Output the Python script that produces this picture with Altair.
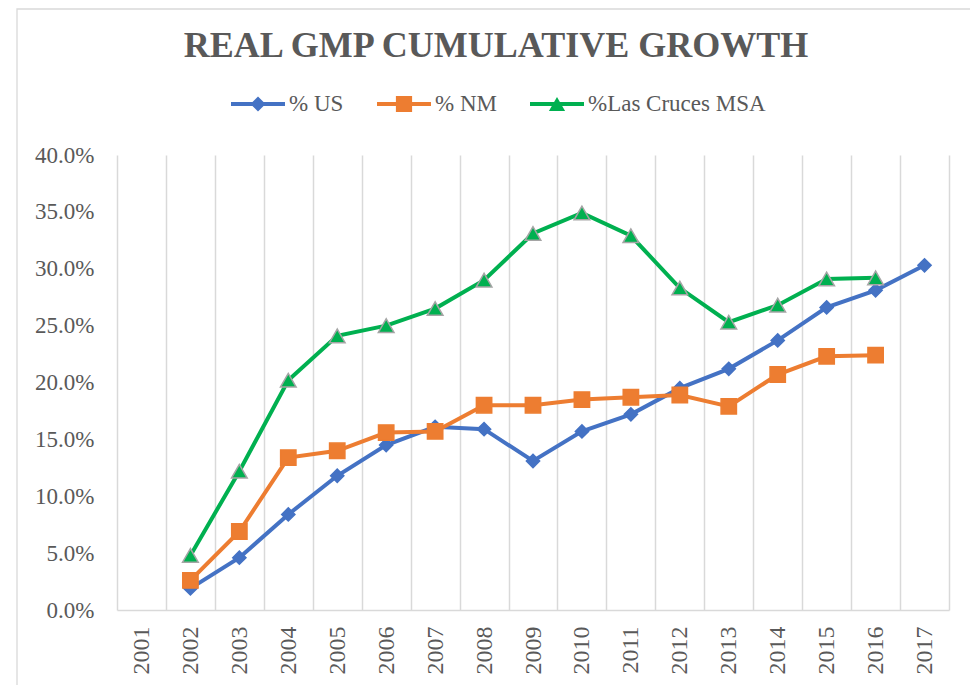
import altair as alt
import pandas as pd

years = [str(y) for y in range(2001, 2018)]
series_names = ["% US", "% NM", "%Las Cruces MSA"]
us = [None, 1.9, 4.6, 8.4, 11.8, 14.5, 16.1, 15.9, 13.1, 15.7, 17.2, 19.5, 21.2, 23.7, 26.6, 28.1, 30.3]
nm = [None, 2.6, 6.9, 13.4, 14.0, 15.6, 15.7, 18.0, 18.0, 18.5, 18.7, 18.9, 17.9, 20.7, 22.3, 22.4, None]
lc = [None, 4.8, 12.2, 20.2, 24.1, 25.0, 26.5, 29.0, 33.1, 34.9, 32.9, 28.3, 25.3, 26.8, 29.1, 29.2, None]
y_ticks = [0, 0.05, 0.10, 0.15, 0.20, 0.25, 0.30, 0.35, 0.40]

colors = ["#4472C4", "#ED7D31", "#00B050"]
marker_strokes = ["#4472C4", "#ED7D31", "#A5A5A5"]
marker_shapes = ["diamond", "square", "triangle-up"]
marker_sizes = [175, 235, 245]
legend_paths = [
    "M-1,-0.075H1V0.075H-1Z M0,-0.28L0.28,0L0,0.28L-0.28,0Z",
    "M-1,-0.075H1V0.075H-1Z M-0.3,-0.3H0.3V0.3H-0.3Z",
    "M-1,-0.075H1V0.075H-1Z M0,-0.26L0.3,0.26L-0.3,0.26Z",
]

rows = []
for name, vals in zip(series_names, [us, nm, lc]):
    for yr, v in zip(years, vals):
        if v is not None:
            rows.append({"year": yr, "series": name, "value": v / 100})
df = pd.DataFrame(rows)

FONT = "Liberation Serif"
GRAY = "#595959"
GRID = "#D9D9D9"

x_enc = alt.X(
    "year:N",
    scale=alt.Scale(type="band", domain=years, paddingInner=0, paddingOuter=0),
    bandPosition=0.5,
    sort=None,
    axis=alt.Axis(
        title=None, tickBand="extent", grid=True, gridColor=GRID, gridWidth=1.5,
        ticks=False, domain=True, domainColor=GRID, domainWidth=1.5,
        labelAngle=270, labelFont=FONT, labelFontSize=24, labelColor=GRAY,
        labelPadding=16,
    ),
)
y_enc = alt.Y(
    "value:Q",
    scale=alt.Scale(domain=[0, 0.4], nice=False, zero=True),
    axis=alt.Axis(
        title=None, values=y_ticks, format=".1%", grid=False, domain=False,
        ticks=False, labelFont=FONT, labelFontSize=23, labelColor=GRAY,
        labelPadding=23,
    ),
)
color_scale = alt.Scale(domain=series_names, range=colors)

legend_cfg = dict(
    title=None, orient="none", direction="horizontal", legendX=114, legendY=-78,
    labelFont=FONT, labelFontSize=23, labelColor=GRAY, symbolSize=2916,
    symbolStrokeWidth=0, labelOffset=4, columnPadding=33, symbolOpacity=1,
    labelLimit=400, symbolFillColor="#000000",
)

base = alt.Chart(df)

lines = base.mark_line(strokeWidth=4).encode(
    x=x_enc, y=y_enc,
    color=alt.Color("series:N", scale=color_scale, legend=None),
    detail="series:N",
)

marker_layers = []
for name, col, stk, shp, sz in zip(series_names, colors, marker_strokes, marker_shapes, marker_sizes):
    marker_layers.append(
        base.transform_filter(alt.datum.series == name).mark_point(
            shape=shp, filled=True, fill=col, stroke=stk, strokeWidth=1.5,
            size=sz, opacity=1,
        ).encode(x=x_enc, y=y_enc)
    )

legend_layer = base.mark_point(filled=True, opacity=1).encode(
    x=x_enc, y=y_enc,
    fill=alt.Fill("series:N", scale=alt.Scale(domain=series_names, range=colors),
                  legend=alt.Legend(**legend_cfg)),
    shape=alt.Shape("series:N", scale=alt.Scale(domain=series_names, range=legend_paths),
                    legend=alt.Legend(**legend_cfg)),
).transform_filter("false")

frame = alt.Chart(alt.Data(values=[{"frame": 1}])).mark_rect(
    fill="transparent", stroke=GRID, strokeWidth=1.3
).encode(
    x=alt.value(-100), x2=alt.value(900), y=alt.value(-146), y2=alt.value(700)
)

chart = alt.layer(frame, lines, *marker_layers, legend_layer).resolve_scale(
    fill="independent", shape="independent"
).resolve_legend(
    fill="independent", shape="independent"
).properties(
    width=832, height=455,
    autosize=alt.AutoSizeParams(type="none"),
    padding={"left": 109, "top": 147, "right": 21, "bottom": 75},
    title=alt.Title(
        "REAL GMP CUMULATIVE GROWTH", font=FONT, fontSize=36, fontWeight="bold",
        color=GRAY, anchor="middle", offset=16, dy=73, dx=-37,
    ),
).configure_view(stroke=None)

chart.save("out.html", embed_options={"renderer": "svg", "actions": False})
